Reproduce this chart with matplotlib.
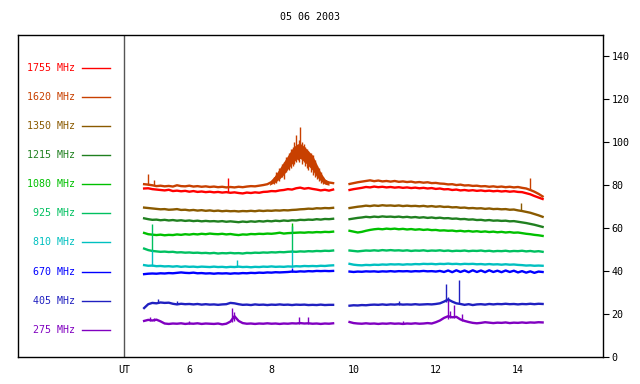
import numpy as np
import matplotlib
matplotlib.use('Agg')
import matplotlib.pyplot as plt
import matplotlib.transforms as mtransforms

#   sample times (UT hours) of the two recorded segments
t_seg1 = np.round(np.arange(4.9, 9.55, 0.1), 2)
t_seg2 = np.round(np.arange(9.9, 14.65, 0.1), 2)

#   channel names and colours (top to bottom in the legend)
channels = ['1755 MHz', '1620 MHz', '1350 MHz', '1215 MHz', '1080 MHz',
            '925 MHz', '810 MHz', '670 MHz', '405 MHz', '275 MHz']
colors = ['#ff0000', '#c84000', '#8a5a00', '#208020', '#00c000',
          '#00c060', '#00c0c0', '#0000ff', '#2020c0', '#8000c0']

#   flux values, first segment
f1755_a = [78.5, 78.6, 78.2, 78.0, 77.8, 77.6, 77.9, 77.3, 77.5, 77.2, 77.4, 77.0, 77.3, 76.9, 77.1, 76.8,
           77.0, 76.7, 76.9, 76.6, 76.8, 76.5, 76.7, 76.4, 76.2, 76.6, 76.4, 76.7, 76.5, 76.9, 77.0, 77.3,
           77.2, 77.6, 77.8, 78.2, 78.0, 78.6, 78.9, 78.4, 78.7, 78.3, 78.0, 77.6, 77.9, 77.5, 78.0]
f1620_a = [80.5, 80.3, 80.0, 79.6, 79.8, 79.5, 79.7, 79.4, 80.0, 79.6, 79.5, 79.8, 79.4, 79.6, 79.3, 79.5,
           79.2, 79.4, 79.1, 79.3, 79.0, 79.2, 79.0, 79.3, 79.1, 79.4, 79.6, 79.5, 79.8, 80.1, 80.5, 81.5,
           83.5, 86.0, 88.5, 91.0, 94.0, 96.0, 97.0, 95.0, 93.0, 91.5, 87.0, 84.0, 82.0, 81.3, 81.0]
f1350_a = [69.6, 69.4, 69.2, 69.0, 68.8, 68.9, 68.6, 68.7, 68.9, 68.5, 68.6, 68.3, 68.5, 68.2, 68.4, 68.1,
           68.3, 68.0, 68.2, 67.9, 68.1, 67.9, 68.0, 67.8, 68.0, 67.9, 68.1, 67.9, 68.2, 68.0, 68.2, 68.1,
           68.3, 68.2, 68.4, 68.3, 68.5, 68.6, 68.8, 68.9, 69.1, 69.0, 69.3, 69.2, 69.4, 69.3, 69.5]
f1215_a = [64.6, 64.2, 63.9, 64.0, 63.7, 63.9, 63.6, 63.8, 63.5, 63.7, 63.4, 63.6, 63.3, 63.5, 63.2, 63.4,
           63.2, 63.3, 63.1, 63.3, 63.0, 63.2, 63.0, 62.8, 63.1, 62.9, 63.2, 63.0, 63.3, 63.1, 63.4, 63.2,
           63.5, 63.3, 63.6, 63.4, 63.7, 63.6, 63.9, 63.8, 64.0, 63.9, 64.2, 64.0, 64.3, 64.2, 64.4]
f1080_a = [57.8, 57.2, 57.0, 56.8, 57.0, 56.7, 56.9, 56.8, 57.1, 56.9, 57.2, 57.0, 57.3, 57.1, 57.4, 57.2,
           57.5, 57.3, 57.2, 57.4, 57.1, 57.3, 57.0, 56.8, 57.1, 57.0, 57.3, 57.2, 57.4, 57.3, 57.5, 57.4,
           57.6, 57.9, 57.5, 57.7, 57.8, 57.9, 58.0, 57.9, 58.1, 58.0, 58.2, 58.1, 58.3, 58.2, 58.4]
f925_a = [50.5, 49.8, 49.4, 49.2, 49.0, 49.1, 48.9, 49.0, 48.7, 48.8, 48.6, 48.7, 48.5, 48.6, 48.4, 48.5,
          48.3, 48.5, 48.2, 48.4, 48.3, 48.5, 48.3, 48.4, 48.2, 48.5, 48.4, 48.6, 48.5, 48.7, 48.6, 48.8,
          48.7, 48.9, 48.8, 49.0, 49.1, 49.0, 49.2, 49.1, 49.3, 49.2, 49.4, 49.3, 49.5, 49.4, 49.6]
f810_a = [42.8, 42.5, 42.6, 42.3, 42.4, 42.2, 42.3, 42.1, 42.3, 42.0, 42.2, 42.0, 42.1, 41.9, 42.1, 42.0,
          41.9, 42.1, 41.9, 42.0, 41.8, 42.0, 41.9, 42.1, 41.9, 42.0, 41.8, 42.0, 41.9, 42.1, 42.0, 42.2,
          42.0, 42.1, 42.0, 42.2, 42.1, 42.3, 42.2, 42.4, 42.3, 42.4, 42.3, 42.5, 42.4, 42.6, 42.7]
f670_a = [38.6, 38.8, 38.9, 38.8, 39.0, 38.9, 39.1, 39.0, 39.2, 39.4, 39.2, 39.1, 39.3, 39.0, 39.1, 38.9,
          39.0, 38.8, 39.0, 38.9, 39.0, 38.8, 39.0, 38.9, 39.1, 39.0, 39.2, 39.1, 39.3, 39.2, 39.4, 39.3,
          39.5, 39.4, 39.5, 39.6, 39.8, 39.7, 39.9, 39.8, 40.0, 39.9, 40.1, 40.0, 40.1, 40.0, 40.1]
f405_a = [22.8, 24.6, 25.2, 25.0, 25.4, 25.2, 25.3, 24.8, 24.5, 24.8, 24.6, 24.7, 24.5, 24.7, 24.4, 24.6,
          24.4, 24.5, 24.3, 24.5, 24.6, 25.2, 25.0, 24.6, 24.3, 24.4, 24.2, 24.5, 24.3, 24.4, 24.2, 24.4,
          24.3, 24.5, 24.3, 24.4, 24.2, 24.4, 24.3, 24.4, 24.2, 24.3, 24.2, 24.4, 24.2, 24.3, 24.3]
f275_a = [16.8, 17.3, 17.0, 17.4, 16.6, 15.6, 15.4, 15.6, 15.5, 15.7, 15.4, 15.6, 15.5, 15.7, 15.4, 15.6,
          15.5, 15.4, 15.6, 15.2, 15.5, 16.5, 19.0, 16.8, 15.8, 15.5, 15.6, 15.4, 15.6, 15.5, 15.7, 15.5,
          15.6, 15.4, 15.6, 15.5, 15.7, 15.6, 15.8, 15.6, 15.7, 15.5, 15.6, 15.4, 15.6, 15.5, 15.7]

#   flux values, second segment
f1755_b = [77.8, 78.2, 78.5, 78.8, 79.2, 79.0, 79.4, 79.1, 79.3, 79.0, 79.2, 78.9, 79.1, 78.8, 79.0, 78.7,
           78.9, 78.6, 78.8, 78.5, 78.7, 78.3, 78.5, 78.1, 78.2, 77.8, 78.0, 77.6, 77.8, 77.5, 77.7, 77.4,
           77.6, 77.3, 77.5, 77.2, 77.4, 77.1, 77.3, 77.0, 77.2, 76.9, 76.8, 76.3, 75.8, 75.0, 74.3, 73.6]
f1620_b = [80.6, 81.0, 81.4, 81.7, 82.0, 82.3, 81.9, 82.2, 81.8, 82.0, 81.7, 82.0, 81.6, 81.8, 81.5, 81.7,
           81.3, 81.5, 81.2, 81.4, 81.0, 81.1, 80.8, 80.7, 80.4, 80.5, 80.1, 80.3, 79.9, 80.0, 79.7, 79.8,
           79.5, 79.6, 79.3, 79.5, 79.2, 79.4, 79.1, 79.3, 79.0, 79.2, 78.8, 78.5, 77.8, 77.0, 76.0, 74.8]
f1350_b = [69.4, 69.7, 70.0, 70.2, 70.5, 70.3, 70.6, 70.4, 70.7, 70.5, 70.6, 70.4, 70.6, 70.3, 70.5, 70.3,
           70.4, 70.2, 70.4, 70.1, 70.3, 70.0, 70.2, 69.9, 70.0, 69.7, 69.8, 69.5, 69.6, 69.3, 69.4, 69.2,
           69.3, 69.0, 69.2, 68.9, 69.0, 68.8, 68.9, 68.6, 68.7, 68.3, 68.0, 67.6, 67.2, 66.6, 66.0, 65.3]
f1215_b = [64.2, 64.5, 64.8, 65.0, 65.3, 65.1, 65.4, 65.2, 65.5, 65.3, 65.4, 65.2, 65.4, 65.1, 65.3, 65.0,
           65.2, 64.9, 65.1, 64.8, 65.0, 64.7, 64.9, 64.6, 64.7, 64.4, 64.5, 64.2, 64.3, 64.0, 64.1, 63.8,
           63.9, 63.6, 63.8, 63.5, 63.6, 63.4, 63.5, 63.2, 63.3, 63.0, 62.7, 62.4, 62.0, 61.6, 61.1, 60.6]
f1080_b = [58.8, 58.4, 58.0, 58.3, 58.8, 59.2, 59.5, 59.7, 59.5, 59.8, 59.6, 59.8, 59.5, 59.7, 59.4, 59.6,
           59.3, 59.5, 59.2, 59.4, 59.1, 59.2, 58.9, 59.0, 58.8, 58.9, 58.6, 58.8, 58.5, 58.7, 58.4, 58.6,
           58.3, 58.5, 58.2, 58.4, 58.1, 58.3, 58.0, 58.2, 57.9, 58.0, 57.7, 57.4, 57.2, 56.9, 56.7, 56.4]
f925_b = [49.6, 49.4, 49.2, 49.4, 49.6, 49.5, 49.7, 49.5, 49.8, 49.6, 49.8, 49.6, 49.7, 49.5, 49.7, 49.4,
          49.6, 49.5, 49.7, 49.4, 49.6, 49.5, 49.7, 49.4, 49.6, 49.3, 49.5, 49.4, 49.6, 49.3, 49.5, 49.4,
          49.6, 49.3, 49.5, 49.2, 49.4, 49.3, 49.5, 49.2, 49.4, 49.3, 49.5, 49.2, 49.4, 49.1, 49.3, 49.0]
f810_b = [43.4, 43.0, 42.8, 42.7, 42.9, 42.8, 43.0, 42.9, 43.1, 43.0, 43.2, 43.1, 43.2, 43.0, 43.2, 43.1,
          43.3, 43.2, 43.4, 43.3, 43.4, 43.2, 43.4, 43.3, 43.5, 43.3, 43.4, 43.2, 43.4, 43.3, 43.4, 43.2,
          43.3, 43.1, 43.3, 43.1, 43.2, 43.0, 43.2, 43.0, 43.1, 42.9, 42.8, 42.6, 42.7, 42.5, 42.6, 42.5]
f670_b = [39.8, 39.6, 39.8, 39.7, 39.9, 39.8, 39.9, 39.7, 39.9, 39.8, 40.0, 39.8, 40.0, 39.9, 40.0, 39.8,
          40.0, 39.9, 40.1, 39.9, 40.0, 39.8, 40.1, 39.6, 40.3, 39.5, 40.4, 39.6, 40.3, 39.5, 40.4, 39.6,
          40.3, 39.5, 40.4, 39.6, 40.2, 39.5, 40.3, 39.6, 40.2, 39.4, 40.0, 39.3, 39.9, 39.2, 39.8, 39.6]
f405_b = [23.9, 24.1, 24.0, 24.2, 24.1, 24.3, 24.4, 24.3, 24.5, 24.3, 24.5, 24.4, 24.6, 24.4, 24.5, 24.4,
          24.6, 24.4, 24.5, 24.6, 24.5, 24.7, 25.0, 25.8, 26.8, 25.8, 25.0, 24.7, 24.3, 24.6, 24.2, 24.5,
          24.6, 24.4, 24.7, 24.5, 24.7, 24.6, 24.8, 24.6, 24.7, 24.5, 24.7, 24.6, 24.8, 24.6, 24.8, 24.7]
f275_b = [16.3, 15.8, 15.6, 15.5, 15.7, 15.5, 15.6, 15.4, 15.6, 15.5, 15.7, 15.5, 15.6, 15.4, 15.6, 15.5,
          15.7, 15.5, 15.6, 15.8, 15.6, 16.2, 17.0, 18.2, 19.0, 18.5, 18.7, 17.5, 16.8, 16.3, 15.9, 15.7,
          15.9, 16.2, 16.0, 15.8, 16.0, 15.9, 16.1, 15.8, 16.0, 15.9, 16.1, 15.9, 16.1, 16.0, 16.2, 16.1]

#   1620 MHz burst envelope (filled band)
burst_t = [7.95, 8.0, 8.1, 8.2, 8.3, 8.4, 8.5, 8.6, 8.7, 8.8, 8.9, 9.0, 9.1, 9.2, 9.3, 9.4]
burst_lo = [80.0, 80.5, 81.5, 83.0, 85.0, 87.5, 90.0, 92.0, 92.5, 91.0, 89.0, 87.0, 84.0, 82.0, 80.5, 80.0]
burst_hi = [80.5, 82.0, 85.0, 88.0, 91.0, 94.0, 97.0, 99.0, 99.5, 98.0, 96.0, 94.0, 90.0, 86.0, 83.0, 81.5]

#   short spikes: (time, low, high) for each channel
spikes_1755 = [(6.95, 77.0, 83.5)]
spikes_1620 = [(5.0, 80.0, 85.4), (5.15, 80.0, 82.6), (8.05, 80.5, 84.0), (8.12, 81.0, 86.0),
               (8.18, 82.0, 88.0), (8.25, 84.0, 90.0), (8.3, 83.0, 91.0), (8.35, 86.0, 93.0),
               (8.42, 87.0, 95.0), (8.47, 88.0, 97.0), (8.52, 89.0, 98.0), (8.56, 90.0, 100.0),
               (8.6, 91.0, 103.5), (8.64, 92.0, 99.0), (8.68, 91.0, 101.0), (8.7, 93.0, 107.0),
               (8.74, 90.0, 100.0), (8.78, 91.0, 99.0), (8.82, 89.0, 98.0), (8.86, 88.0, 97.0),
               (8.9, 87.0, 96.0), (8.95, 86.0, 95.0), (9.0, 85.0, 94.0), (9.05, 84.0, 92.0),
               (9.1, 83.0, 89.0), (9.15, 82.0, 88.0), (9.2, 81.0, 86.0), (9.25, 80.5, 84.0),
               (14.3, 78.0, 83.5)]
spikes_1350 = [(14.07, 68.0, 71.8)]
spikes_1215 = []
spikes_1080 = [(8.5, 57.8, 62.5)]
spikes_925 = [(5.1, 49.4, 62.0), (8.5, 49.1, 61.0)]
spikes_810 = [(5.1, 42.6, 50.0), (8.5, 42.1, 50.0), (7.17, 41.9, 45.0)]
spikes_670 = [(8.5, 39.8, 41.5)]
spikes_405 = [(5.25, 25.0, 27.0), (5.7, 24.5, 26.0), (11.1, 24.4, 26.0), (12.24, 25.5, 34.0),
              (12.3, 25.5, 28.0), (12.56, 25.0, 36.0)]
spikes_275 = [(5.05, 17.0, 18.7), (5.15, 16.8, 18.3), (6.0, 15.5, 16.8), (7.05, 16.5, 22.9),
              (7.08, 17.0, 21.0), (8.66, 15.6, 18.7), (8.88, 15.6, 18.7), (11.2, 15.5, 16.8),
              (12.3, 17.5, 26.6), (12.35, 18.0, 21.5), (12.44, 18.0, 24.3), (12.63, 17.0, 20.0)]

seg_a = [f1755_a, f1620_a, f1350_a, f1215_a, f1080_a, f925_a, f810_a, f670_a, f405_a, f275_a]
seg_b = [f1755_b, f1620_b, f1350_b, f1215_b, f1080_b, f925_b, f810_b, f670_b, f405_b, f275_b]
spikes = [spikes_1755, spikes_1620, spikes_1350, spikes_1215, spikes_1080,
          spikes_925, spikes_810, spikes_670, spikes_405, spikes_275]

x_ticks = [6, 8, 10, 12, 14]
y_ticks = [0, 20, 40, 60, 80, 100, 120, 140]

#   figure
font = 'DejaVu Sans Mono'
fs = 7.2
fig = plt.figure(figsize=(6.4, 3.84), dpi=100)
ax = fig.add_axes([18 / 640, 27 / 384, 585 / 640, 322 / 384])
ax.set_xlim(1.83, 16.07)
ax.set_ylim(0, 150)

for i in range(len(channels)):
    ax.plot(t_seg1, seg_a[i], color=colors[i], lw=1.7)
    ax.plot(t_seg2, seg_b[i], color=colors[i], lw=1.7)
    if spikes[i]:
        st, lo, hi = zip(*spikes[i])
        ax.vlines(st, lo, hi, color=colors[i], lw=1.0)
ax.fill_between(burst_t, burst_lo, burst_hi, color=colors[1], lw=0)

#   legend inside the left part of the frame
ax.axvline(4.42, color='#555555', lw=1.0)
trans = mtransforms.blended_transform_factory(ax.transData, ax.transAxes)
for i, name in enumerate(channels):
    yy = 0.898 - 0.0904 * i
    ax.text(3.22, yy, name, color=colors[i], ha='right', va='center',
            family=font, fontsize=fs, transform=trans)
    ax.plot([3.39, 4.07], [yy, yy], color=colors[i], lw=1.0, transform=trans)

#   axes styling
ax.yaxis.tick_right()
ax.set_yticks(y_ticks)
ax.set_xticks(x_ticks + [4.42])
ax.set_xticklabels([str(v) for v in x_ticks] + ['UT'])
ax.tick_params(axis='y', direction='out', length=4, width=0.8, pad=2, labelsize=fs)
ax.tick_params(axis='x', direction='out', length=0, pad=6, labelsize=fs)
for lab in ax.get_xticklabels() + ax.get_yticklabels():
    lab.set_family(font)
for sp in ax.spines.values():
    sp.set_linewidth(1.0)

fig.text(310.5 / 640, 1 - 17 / 384, '05 06 2003', ha='center', va='center',
         family=font, fontsize=fs)

fig.savefig('out.png', dpi=100)
